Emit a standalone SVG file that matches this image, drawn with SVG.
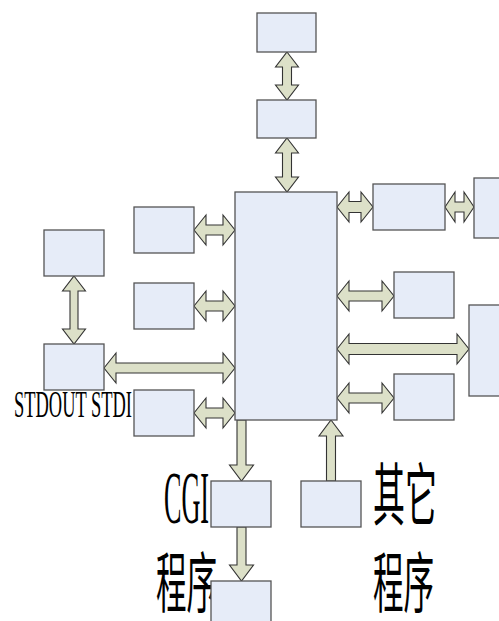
<svg xmlns="http://www.w3.org/2000/svg" width="499" height="621" viewBox="0 0 499 621">
<style>
.box{fill:#E6ECF8;stroke:#555;stroke-width:1.3}
.arr{fill:#DCE0C8;stroke:#333;stroke-width:1.1;stroke-linejoin:miter}
.lat{font-family:"Liberation Serif","Times New Roman",serif;fill:#000}
.cjk{font-family:"Noto Sans CJK SC","Liberation Serif",sans-serif;fill:#000;font-size:68px}
</style>
<rect width="499" height="621" fill="#fff"/>
<g id="labels">
<text class="lat" x="14" y="417" font-size="38" textLength="118" lengthAdjust="spacingAndGlyphs">STDOUT STDI</text>
<text class="lat" x="164" y="523" font-size="73" textLength="45" lengthAdjust="spacingAndGlyphs">CGI</text>
<text class="cjk" transform="translate(156,607) scale(0.463,1)" x="0" y="0" style="font-size:66px">程序</text>
<text class="cjk" transform="translate(373,520) scale(0.47,1)" x="0" y="0">其它</text>
<text class="cjk" transform="translate(373,607) scale(0.463,1)" x="0" y="0" style="font-size:66px">程序</text>
</g>
<g id="connectors">
<polygon class="arr" points="287,52 298.5,67 291.5,67 291.5,85 298.5,85 287,100 275.5,85 282.5,85 282.5,67 275.5,67"/>
<polygon class="arr" points="287,138 298.5,153 291.5,153 291.5,177 298.5,177 287,192 275.5,177 282.5,177 282.5,153 275.5,153"/>
<polygon class="arr" points="74,276 85.5,291 78,291 78,329 85.5,329 74,344 62.5,329 70,329 70,291 62.5,291"/>
<polygon class="arr" points="194,230 206,215 206,225 223,225 223,215 235,230 223,245 223,235 206,235 206,245"/>
<polygon class="arr" points="194,306 206,291 206,301 223,301 223,291 235,306 223,321 223,311 206,311 206,321"/>
<polygon class="arr" points="104,368 116,353 116,363 223,363 223,353 235,368 223,383 223,373 116,373 116,383"/>
<polygon class="arr" points="194,413 206,398 206,408 223,408 223,398 235,413 223,428 223,418 206,418 206,428"/>
<polygon class="arr" points="337,207 349,192 349,201.5 361,201.5 361,192 373,207 361,222 361,212.5 349,212.5 349,222"/>
<polygon class="arr" points="445,207 455,192 455,202 464,202 464,192 474,207 464,222 464,212 455,212 455,222"/>
<polygon class="arr" points="337,296 349,281 349,291 382,291 382,281 394,296 382,311 382,301 349,301 349,311"/>
<polygon class="arr" points="337,349 349,334 349,343.5 457,343.5 457,334 469,349 457,364 457,354.5 349,354.5 349,364"/>
<polygon class="arr" points="337,398 349,383 349,393 382,393 382,383 394,398 382,413 382,403 349,403 349,413"/>
<polygon class="arr" points="237,420 246,420 246,465 253.5,465 241.5,481 229.5,465 237,465"/>
<polygon class="arr" points="237,527 246,527 246,565 253.5,565 241.5,581 229.5,565 237,565"/>
<polygon class="arr" points="331,420 343,436 335.5,436 335.5,481 326.5,481 326.5,436 319,436"/>
</g>
<g id="n-top1"><rect class="box" x="257" y="13" width="59" height="39"/></g>
<g id="n-top2"><rect class="box" x="257" y="100" width="59" height="38"/></g>
<g id="n-main"><rect class="box" x="235" y="192" width="102" height="228"/></g>
<g id="n-l1"><rect class="box" x="134" y="207" width="60" height="46"/></g>
<g id="n-l2"><rect class="box" x="134" y="283" width="60" height="46"/></g>
<g id="n-l3"><rect class="box" x="134" y="390" width="60" height="46"/></g>
<g id="n-fl1"><rect class="box" x="44" y="230" width="60" height="46"/></g>
<g id="n-fl2"><rect class="box" x="44" y="344" width="60" height="46"/></g>
<g id="n-r1"><rect class="box" x="373" y="184" width="72" height="46"/></g>
<g id="n-r2"><rect class="box" x="474" y="178" width="30" height="60"/></g>
<g id="n-r3"><rect class="box" x="394" y="272" width="60" height="46"/></g>
<g id="n-r4"><rect class="box" x="469" y="305" width="35" height="91"/></g>
<g id="n-r5"><rect class="box" x="394" y="374" width="60" height="46"/></g>
<g id="n-cgi"><rect class="box" x="211" y="481" width="60" height="46"/></g>
<g id="n-other"><rect class="box" x="301" y="481" width="60" height="46"/></g>
<g id="n-bottom"><rect class="box" x="211" y="581" width="60" height="46"/></g>
</svg>
